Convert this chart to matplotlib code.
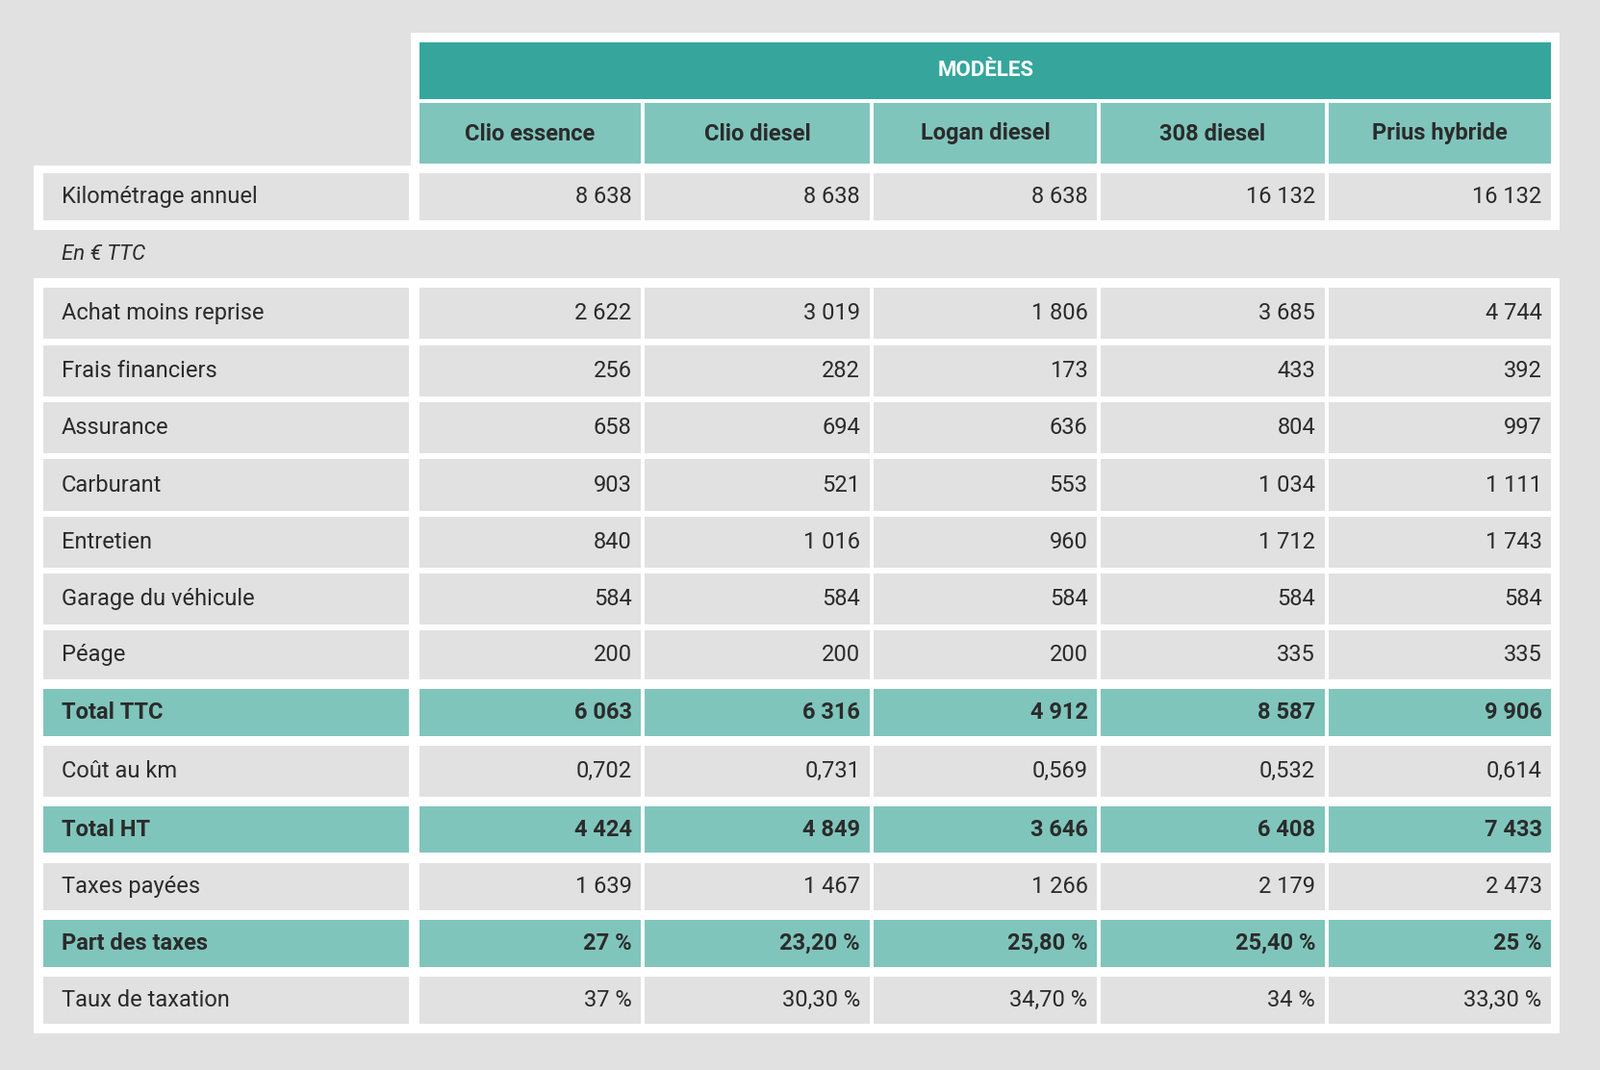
import matplotlib
matplotlib.use("Agg")
import matplotlib.pyplot as plt
from matplotlib.patches import Rectangle

models = ["Clio essence", "Clio diesel", "Logan diesel", "308 diesel", "Prius hybride"]
km_label = "Kilométrage annuel"
km_values = ["8 638", "8 638", "8 638", "16 132", "16 132"]
row_labels = ["Achat moins reprise", "Frais financiers", "Assurance", "Carburant", "Entretien",
              "Garage du véhicule", "Péage", "Total TTC", "Coût au km", "Total HT",
              "Taxes payées", "Part des taxes", "Taux de taxation"]
row_values = [
    ["2 622", "3 019", "1 806", "3 685", "4 744"],
    ["256", "282", "173", "433", "392"],
    ["658", "694", "636", "804", "997"],
    ["903", "521", "553", "1 034", "1 111"],
    ["840", "1 016", "960", "1 712", "1 743"],
    ["584", "584", "584", "584", "584"],
    ["200", "200", "200", "335", "335"],
    ["6 063", "6 316", "4 912", "8 587", "9 906"],
    ["0,702", "0,731", "0,569", "0,532", "0,614"],
    ["4 424", "4 849", "3 646", "6 408", "7 433"],
    ["1 639", "1 467", "1 266", "2 179", "2 473"],
    ["27 %", "23,20 %", "25,80 %", "25,40 %", "25 %"],
    ["37 %", "30,30 %", "34,70 %", "34 %", "33,30 %"],
]
highlight = ["Total TTC", "Total HT", "Part des taxes"]

BG = "#e1e1e1"; DARK = "#36a69d"; LIGHT = "#80c5bc"; TXT = "#2b2b2b"
FONT = "Roboto"

fig = plt.figure(figsize=(16.63, 11.12), dpi=100, facecolor=BG)
ax = fig.add_axes([0, 0, 1, 1])
ax.set_xlim(0, 1568); ax.set_ylim(1048, 0); ax.axis("off")

def rect(x0, y0, x1, y1, c):
    ax.add_patch(Rectangle((x0, y0), x1 - x0, y1 - y0, facecolor=c, edgecolor="none"))

cols = [(411, 628), (632, 852), (856, 1075), (1079, 1298), (1302, 1520)]
lab = (42, 401)

# white panels
rect(403, 32, 1528, 168, "white")
rect(33, 162, 1528, 225, "white")
rect(33, 272, 1528, 1012, "white")

rect(411, 41, 1520, 97, DARK)
ax.text(966, 69, "MODÈLES", color="white", fontsize=16, fontweight="bold", family=FONT, ha="center", va="center")
for (x0, x1), m in zip(cols, models):
    rect(x0, 101, x1, 160, LIGHT)
    ax.text((x0 + x1) / 2, 131, m, color=TXT, fontsize=17, fontweight="bold", family=FONT, ha="center", va="center")

def row(y0, y1, label, vals, hl):
    c = LIGHT if hl else BG
    fw = "bold" if hl else "normal"
    rect(lab[0], y0, lab[1], y1, c)
    ym = (y0 + y1) / 2
    ax.text(60, ym, label, color=TXT, fontsize=17, fontweight=fw, family=FONT, ha="left", va="center")
    for (x0, x1), v in zip(cols, vals):
        rect(x0, y0, x1, y1, c)
        ax.text(x1 - 9, ym, v, color=TXT, fontsize=17, fontweight=fw, family=FONT, ha="right", va="center")

row(170, 216, km_label, km_values, False)
ax.text(60, 249, "En € TTC", color=TXT, fontsize=16, style="italic", family=FONT, ha="left", va="center")

bounds = [(282, 332), (338, 388), (394, 444), (450, 500), (506, 556), (562, 612), (617, 665),
          (675, 721), (730, 780), (790, 835), (845, 892), (901, 947), (957, 1003)]
for (y0, y1), l, v in zip(bounds, row_labels, row_values):
    row(y0, y1, l, v, l in highlight)

fig.savefig("out.png", dpi=100, facecolor=BG)
